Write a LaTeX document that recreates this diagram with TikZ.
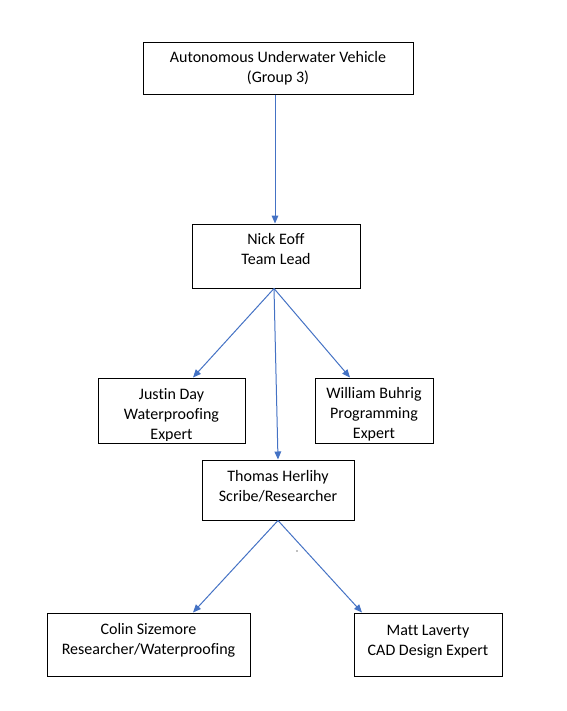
\documentclass[tikz,border=0pt]{standalone}
\usepackage{fontspec}
\setmainfont[Ligatures=NoCommon]{Carlito}
\usetikzlibrary{arrows.meta}
\usetikzlibrary{calc}

\definecolor{lineblue}{HTML}{4472C4}

\tikzset{
  box/.style={draw, line width=0.75pt, inner sep=0pt},
  lbl/.style={align=center, anchor=north, inner sep=0pt, font=\fontsize{12}{15}\selectfont},
  conn/.style={draw=lineblue, line width=0.75pt, -{Triangle[length=6pt,width=5pt]}}
}

\begin{document}
\begin{tikzpicture}[x=0.75pt, y=-0.75pt]
    \useasboundingbox (0,0) rectangle (567,711);

    \node[box, minimum width=202.5pt, minimum height=39pt] (auv) at (278,68) {};
    \node[box, minimum width=126pt, minimum height=48pt] (nick) at (276,256) {};
    \node[box, minimum width=110.25pt, minimum height=48.75pt] (justin) at (171.5,410.5) {};
    \node[box, minimum width=88.5pt, minimum height=48.75pt] (william) at (374,410.5) {};
    \node[box, minimum width=114pt, minimum height=45pt] (thomas) at (278,490) {};
    \node[box, minimum width=152.25pt, minimum height=47.25pt] (colin) at (148.5,644.5) {};
    \node[box, minimum width=111pt, minimum height=47.25pt] (matt) at (428,644.5) {};

    \node[lbl] (auvtext) at ($(auv.north)+(0,10)$) {Autonomous Underwater Vehicle\\(Group 3)};
    \node[lbl] (nicktext) at ($(nick.north)+(0,9.5)$) {Nick Eoff\\Team Lead};
    \node[lbl] (thomastext) at ($(thomas.north)+(0,10.5)$) {Thomas Herlihy\\Scribe/Researcher};
    \node[lbl] (colintext) at ($(colin.north)+(0,11)$) {Colin Sizemore\\Researcher/Waterproofing};
    \node[lbl] (matttext) at ($(matt.north)+(0,12)$) {Matt Laverty\\CAD Design Expert};

    \begin{scope}
        \clip ($(justin.north west)+(1,1)$) rectangle ($(justin.south east)+(-1,-3)$);
        \node[lbl] (justintext) at ($(justin.north)+(0,11)$) {Justin Day\\Waterproofing\\Expert};
    \end{scope}
    \begin{scope}
        \clip ($(william.north west)+(1,1)$) rectangle ($(william.south east)+(-1,-3)$);
        \node[lbl] (williamtext) at ($(william.north)+(0,9.5)$) {William Buhrig\\Programming\\Expert};
    \end{scope}

    \draw[conn] ($(auv.south)+(-3,0)$) -- ($(nick.north)+(-1,0)$);
    \draw[conn] ($(nick.south)+(-2,0)$) -- ($(justin.north)+(21.5,0)$);
    \draw[conn] ($(nick.south)+(-2,0)$) -- (thomas.north);
    \draw[conn] ($(nick.south)+(-2,0)$) -- ($(william.north)+(-24,0)$);
    \draw[conn] (thomas.south) -- ($(colin.north)+(44.5,0)$);
    \draw[conn] (thomas.south) -- ($(matt.north)+(-66,0)$);

    \fill[gray] (297,551) circle (0.6pt);
\end{tikzpicture}
\end{document}
